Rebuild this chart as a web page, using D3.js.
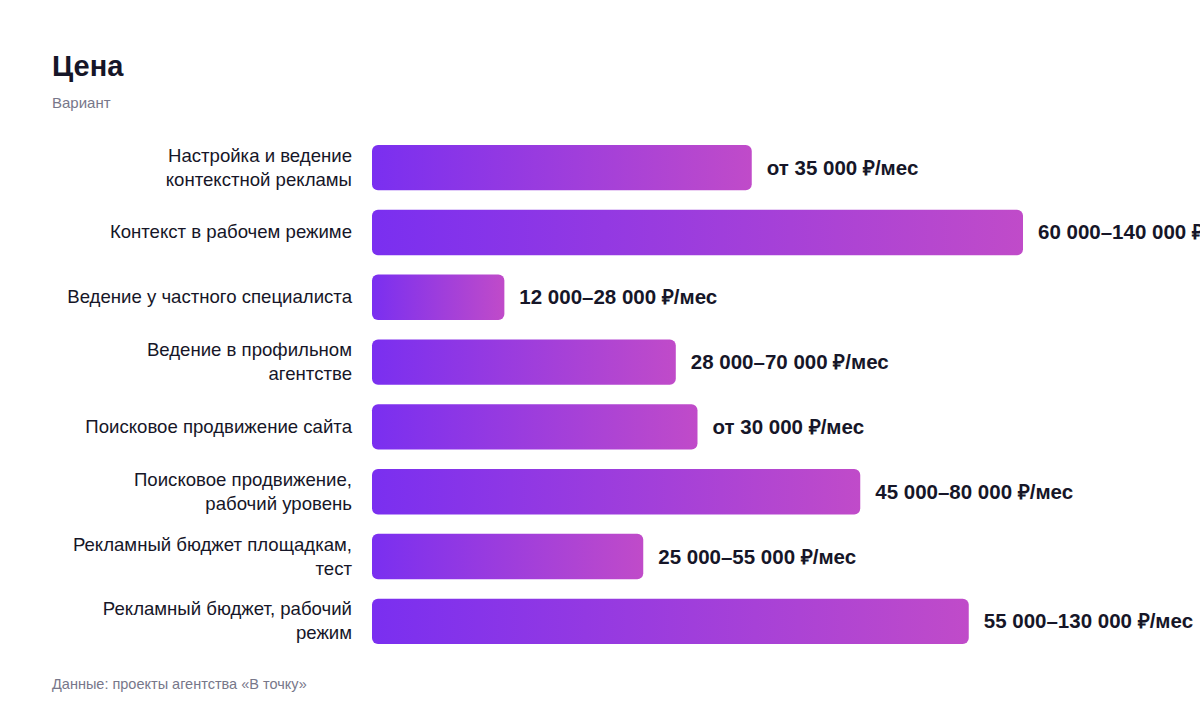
<!DOCTYPE html>
<html><head><meta charset="utf-8">
<script src="https://cdn.jsdelivr.net/npm/d3@7"></script>
<style>body{margin:0;background:#fff;font-family:"Liberation Sans",Arial,sans-serif;}</style>
</head><body><svg id="c" width="1200" height="712"></svg>
<script>
const categories = [["Настройка и ведение","контекстной рекламы"],["Контекст в рабочем режиме"],["Ведение у частного специалиста"],["Ведение в профильном","агентстве"],["Поисковое продвижение сайта"],["Поисковое продвижение,","рабочий уровень"],["Рекламный бюджет площадкам,","тест"],["Рекламный бюджет, рабочий","режим"]];
const values = [35000,60000,12200,28000,30000,45000,25000,55000];
const labels = ["от 35 000 ₽/мес","60 000–140 000 ₽/мес","12 000–28 000 ₽/мес","28 000–70 000 ₽/мес","от 30 000 ₽/мес","45 000–80 000 ₽/мес","25 000–55 000 ₽/мес","55 000–130 000 ₽/мес"];
const svg=d3.select("#c");
const defs=svg.append("defs");
const x=d3.scaleLinear().domain([0,60000]).range([372,1023]);
const y=d3.scaleBand().domain(d3.range(categories.length)).range([145,644]).paddingInner(0.3).paddingOuter(0);
svg.append("text").attr("x",52).attr("y",76).text("Цена").attr("font-size",29).attr("font-weight",700).attr("fill","#161628");
svg.append("text").attr("x",52).attr("y",108).text("Вариант").attr("font-size",15).attr("fill","#77778a");
svg.append("text").attr("x",52).attr("y",689).text("Данные: проекты агентства «В точку»").attr("font-size",14.5).attr("fill","#77778a");
values.forEach((v,i)=>{
  const g=defs.append("linearGradient").attr("id","g"+i).attr("gradientUnits","userSpaceOnUse")
    .attr("x1",x(0)).attr("x2",x(v)).attr("y1",0).attr("y2",0);
  g.append("stop").attr("offset",0).attr("stop-color","#7a2ff0");
  g.append("stop").attr("offset",1).attr("stop-color","#c04bc9");
});
const bh=y.bandwidth();
svg.selectAll("rect.b").data(values).join("rect").attr("x",x(0)).attr("y",(d,i)=>y(i))
 .attr("width",d=>x(d)-x(0)).attr("height",bh).attr("rx",6).attr("fill",(d,i)=>`url(#g${i})`);
svg.selectAll("text.v").data(values).join("text").attr("x",d=>x(d)+15).attr("y",(d,i)=>y(i)+bh/2+7)
 .text((d,i)=>labels[i]).attr("font-size",20.5).attr("font-weight",700).attr("fill","#161628");
categories.forEach((c,i)=>{
  const t=svg.append("text").attr("text-anchor","end").attr("font-size",18.6).attr("fill","#161628");
  const cy=y(i)+bh/2; const lh=24; const y0=cy-(c.length-1)*lh/2+6;
  c.forEach((l,j)=>t.append("tspan").attr("x",352).attr("y",y0+j*lh).text(l));
});
</script></body></html>
